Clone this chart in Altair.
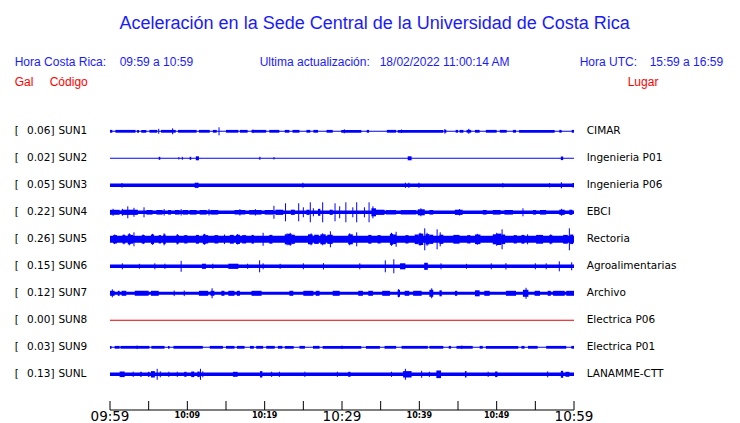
import altair as alt
import pandas as pd

# ---------------- data ----------------
codes = ["SUN1", "SUN2", "SUN3", "SUN4", "SUN5", "SUN6", "SUN7", "SUN8", "SUN9", "SUNL"]
peaks = ["0.06]", "0.02]", "0.05]", "0.22]", "0.26]", "0.15]", "0.12]", "0.00]", "0.03]", "0.13]"]
places = ["CIMAR", "Ingenieria P01", "Ingenieria P06", "EBCI", "Rectoria",
          "Agroalimentarias", "Archivo", "Electrica P06", "Electrica P01", "LANAMME-CTT"]
# half width (px) of the continuous band of each trace
base_amp = [0.5, 0.5, 1.8, 1.7, 3.5, 1.7, 1.5, 0.5, 0.5, 1.8]
trace_colors = ["#0000ff"] * 7 + ["#e00000"] + ["#0000ff"] * 2

# wider stretches: (start minute, end minute, half width px)
seg_sun1 = [(0, 0.3, 1.4), (0.7, 3.3, 1.4), (3.5, 3.75, 1.4), (4.05, 4.7, 1.4), (5.1, 6.1, 1.4),
            (6.6, 8.5, 1.4), (8.8, 11.2, 1.4), (11.5, 12.9, 1.4), (13.3, 13.8, 1.4), (15.0, 16.6, 1.4),
            (16.8, 17.8, 1.4), (18.3, 20.2, 1.4), (20.6, 21.9, 1.4), (22.6, 23.2, 1.4), (23.6, 24.5, 1.4),
            (25.4, 25.9, 1.4), (26.3, 26.9, 1.4), (28.0, 28.8, 1.4), (29.9, 32.5, 1.4), (33.2, 33.5, 1.4),
            (35.8, 37.0, 1.4), (37.2, 43.1, 1.4), (43.3, 43.5, 1.4), (44.7, 45.0, 1.4), (45.2, 45.7, 1.4),
            (46.1, 46.7, 1.4), (47.2, 47.8, 1.4), (48.6, 50.0, 1.4), (50.4, 51.3, 1.4), (52.1, 52.5, 1.4),
            (52.9, 57.5, 1.4), (58.1, 58.4, 1.4), (59.7, 60, 1.4)]
seg_sun2 = [(6.3, 6.5, 1.5), (10.3, 10.5, 1.5), (11.1, 11.5, 2.0), (19.3, 19.45, 1.5),
            (38.5, 39.0, 2.0), (58.3, 58.6, 1.8)]
seg_sun3 = [(10.95, 11.45, 2.6), (58.3, 58.45, 3.0), (59.8, 60, 2.3)]
seg_sun4 = [(0, 1.25, 2.5), (1.5, 3.6, 2.6), (4.7, 5.5, 2.3), (6.0, 6.8, 2.3), (7.5, 7.9, 2.3),
            (8.4, 9.0, 2.3), (9.4, 10.1, 2.3), (10.3, 11.2, 2.3), (11.6, 12.5, 2.3), (13.0, 14.0, 2.3),
            (16.1, 17.5, 2.3), (18.0, 19.6, 2.3), (20.0, 21.1, 2.3), (21.4, 22.4, 2.6), (23.4, 23.9, 2.6),
            (25.4, 25.8, 2.6), (26.9, 27.2, 3.5), (28.4, 28.8, 2.6), (33.8, 34.4, 4.0), (34.4, 35.5, 2.6),
            (35.7, 37.0, 2.2), (37.6, 39.6, 2.2), (39.8, 40.7, 3.0), (41.3, 41.8, 2.3), (44.6, 45.6, 2.6),
            (48.2, 48.7, 2.3), (49.5, 50.5, 2.3), (51.0, 52.1, 2.3), (54.7, 55.1, 2.3), (55.6, 56.4, 2.3),
            (58.1, 58.8, 2.6), (59.4, 59.8, 2.6)]
seg_sun5 = [(0.4, 0.9, 4.2), (1.6, 2.0, 4.2), (2.3, 2.7, 5.0), (2.7, 3.0, 4.4), (4.1, 4.5, 4.2),
            (5.3, 5.7, 4.8), (6.3, 6.6, 4.2), (6.9, 7.2, 4.8), (8.6, 8.9, 4.4), (9.6, 10.0, 4.2),
            (11.1, 11.5, 4.4), (12.0, 12.4, 4.8), (12.4, 12.7, 4.2), (13.5, 14.0, 4.2), (15.5, 16.0, 4.4),
            (16.3, 16.8, 4.6), (17.1, 17.6, 4.2), (18.3, 18.6, 4.4), (20.6, 21.0, 4.4), (22.6, 23.0, 5.0),
            (23.0, 23.5, 5.5), (23.5, 23.9, 4.6), (25.6, 26.2, 5.0), (26.4, 27.0, 4.6), (27.2, 27.9, 5.0),
            (28.1, 28.8, 4.6), (30.8, 31.4, 5.0), (33.4, 33.8, 4.4), (34.6, 35.0, 4.2), (36.2, 36.6, 5.5),
            (36.6, 37.0, 4.8), (38.2, 38.6, 4.2), (39.4, 39.9, 4.8), (39.9, 40.5, 5.7), (40.8, 41.3, 5.2),
            (41.3, 41.8, 4.6), (42.6, 43.1, 4.6), (44.4, 45.2, 4.4), (46.2, 46.6, 4.2), (47.2, 47.9, 4.8),
            (49.5, 50.0, 5.0), (50.0, 50.6, 5.7), (50.6, 51.1, 4.8), (52.2, 52.6, 4.2), (53.2, 53.6, 4.4),
            (55.1, 56.0, 4.4), (56.8, 57.2, 4.2), (58.6, 59.2, 4.4), (59.5, 59.9, 4.8)]
seg_sun6 = [(11.9, 12.4, 2.6), (15.3, 16.6, 2.6), (37.5, 38.2, 3.0), (40.7, 41.1, 3.5)]
seg_sun7 = [(0, 0.6, 2.5), (1.0, 1.25, 2.5), (1.5, 2.1, 2.5), (3.2, 5.0, 2.5), (5.3, 6.3, 2.5),
            (11.5, 12.7, 2.5), (13.0, 13.5, 2.5), (14.4, 14.8, 2.5), (15.3, 16.1, 2.5), (16.4, 16.8, 2.5),
            (18.3, 19.6, 2.5), (23.2, 23.7, 2.5), (25.0, 26.3, 2.5), (26.6, 27.1, 2.5), (28.8, 29.7, 2.5),
            (32.1, 32.7, 2.5), (33.4, 34.0, 2.5), (35.2, 36.2, 2.5), (37.2, 37.5, 3.5), (38.1, 38.7, 2.5),
            (39.2, 40.3, 2.5), (41.3, 41.8, 3.5), (42.6, 42.9, 3.0), (44.6, 44.9, 2.5), (47.2, 47.8, 3.0),
            (48.4, 49.1, 2.5), (51.2, 52.5, 2.5), (53.4, 54.1, 3.5), (54.9, 55.6, 2.5), (56.6, 57.0, 2.5),
            (57.3, 58.8, 2.5), (59.0, 60, 2.5)]
seg_sun8 = []
seg_sun9 = [(0, 0.2, 1.4), (0.6, 1.25, 1.4), (1.35, 5.1, 1.4), (5.35, 7.05, 1.4), (7.5, 7.7, 1.4),
            (8.2, 12.0, 1.4), (12.9, 14.6, 1.4), (15.0, 16.1, 1.4), (16.4, 17.4, 1.4), (18.1, 18.6, 1.4),
            (18.9, 19.8, 1.4), (20.2, 21.3, 1.4), (21.7, 22.3, 1.4), (22.6, 23.75, 1.4), (24.5, 25.2, 1.4),
            (26.25, 27.1, 1.4), (27.5, 32.5, 1.4), (33.1, 34.9, 1.4), (35.5, 37.0, 1.4), (37.7, 41.1, 1.4),
            (41.3, 43.1, 1.4), (43.8, 44.1, 1.4), (44.8, 46.9, 1.4), (47.8, 48.2, 1.4), (48.6, 52.8, 1.4),
            (53.2, 53.6, 1.4), (54.05, 55.3, 1.4), (56.4, 59.0, 1.4), (59.65, 60, 1.4)]
seg_sunl = [(1.25, 1.9, 2.8), (3.9, 4.1, 2.5), (4.9, 5.1, 2.5), (5.3, 5.8, 3.2), (9.6, 9.9, 2.5),
            (10.5, 10.9, 2.8), (11.3, 11.6, 2.8), (15.9, 16.5, 2.5), (19.4, 19.7, 3.2), (30.8, 31.1, 2.5),
            (37.9, 39.0, 3.2), (42.2, 42.8, 3.8), (45.9, 46.1, 3.2), (49.8, 50.1, 2.8), (58.3, 58.6, 3.5),
            (58.9, 59.4, 2.5)]

# single spikes: (minute, half height px)
spk_sun1 = [(6.3, 2.5), (8.1, 3.0), (14.1, 4.0), (18.5, 1.8), (30.3, 2.0), (37.7, 1.8), (43.3, 2.3), (46.4, 2.5)]
spk_sun2 = [(8.9, 1.2), (9.35, 1.5), (21.2, 1.2)]
spk_sun3 = [(1.55, 2.3), (24.95, 2.5), (38.2, 2.6), (38.65, 2.6), (39.95, 2.6), (50.8, 2.2), (56.85, 2.2)]
spk_sun4 = [(0.4, 3.5), (1.6, 3.5), (2.3, 6.0), (3.1, 4.5), (4.4, 5.0), (7.0, 3.2), (9.2, 3.2),
            (12.8, 3.2), (16.8, 3.2), (18.8, 3.2), (21.2, 6.5), (22.7, 9.0), (24.4, 9.0), (25.0, 5.0),
            (25.9, 10.0), (26.3, 4.0), (27.5, 10.0), (29.1, 9.0), (29.7, 6.0), (30.5, 10.0), (31.4, 5.0),
            (31.9, 10.0), (32.9, 5.0), (33.5, 10.0), (34.0, 6.0), (40.2, 4.0), (45.2, 3.2), (53.4, 4.0),
            (58.4, 3.5)]
spk_sun5 = [(0.6, 4.8), (1.8, 5.0), (2.5, 6.0), (3.1, 7.0), (4.3, 4.8), (5.5, 5.5), (7.0, 6.0),
            (8.7, 5.2), (12.2, 5.5), (14.8, 4.8), (16.5, 5.2), (19.8, 6.5), (22.9, 6.0), (23.3, 6.5),
            (26.0, 6.0), (27.5, 6.0), (28.5, 8.0), (31.0, 6.0), (31.9, 7.0), (36.4, 6.5), (37.0, 7.5),
            (40.1, 6.5), (40.7, 11.0), (41.0, 6.5), (42.3, 10.0), (42.7, 7.0), (47.5, 5.5), (50.0, 6.5),
            (50.7, 10.0), (54.0, 5.0), (57.0, 5.0), (59.4, 11.0)]
spk_sun6 = [(1.6, 3.0), (3.8, 2.5), (5.8, 3.0), (7.1, 2.6), (9.2, 5.5), (13.3, 2.6), (17.8, 2.6),
            (19.35, 6.0), (19.8, 3.0), (22.0, 2.5), (25.0, 3.0), (27.6, 3.2), (32.3, 3.0), (35.6, 6.0),
            (36.7, 7.0), (40.7, 3.5), (42.8, 3.0), (46.1, 2.5), (49.3, 3.0), (51.2, 3.2), (55.0, 3.0),
            (56.4, 3.0), (58.1, 5.0), (59.7, 4.0)]
spk_sun7 = [(0.3, 4.0), (8.3, 2.8), (9.6, 2.8), (13.2, 5.0), (37.3, 4.0), (41.6, 5.0), (53.8, 5.5)]
spk_sun8 = []
spk_sun9 = [(3.5, 1.8), (30.0, 1.8), (45.5, 1.8)]
spk_sunl = [(3.0, 2.6), (6.1, 5.5), (6.5, 3.0), (7.6, 2.6), (8.7, 2.6), (11.7, 5.5), (12.0, 3.0),
            (20.9, 2.6), (21.9, 2.6), (25.2, 2.6), (29.4, 2.6), (36.4, 2.6), (38.2, 5.5), (40.3, 3.5),
            (41.3, 2.6), (48.9, 2.6), (56.6, 3.0)]

segments = [seg_sun1, seg_sun2, seg_sun3, seg_sun4, seg_sun5, seg_sun6, seg_sun7, seg_sun8, seg_sun9, seg_sunl]
spikes = [spk_sun1, spk_sun2, spk_sun3, spk_sun4, spk_sun5, spk_sun6, spk_sun7, spk_sun8, spk_sun9, spk_sunl]

tick_minutes = list(range(0, 61, 5))
label_minutes = [0, 10, 20, 30, 40, 50, 60]
tick_labels = ["09:59", "10:09", "10:19", "10:29", "10:39", "10:49", "10:59"]
label_big = [True, False, False, True, False, False, True]

title_text = "Aceleración en la Sede Central de la Universidad de Costa Rica"

# ---------------- tables ----------------
ROW_PX = 27.0
rect_rows, spike_rows = [], []
for i, code in enumerate(codes):
    col = trace_colors[i]
    for (t0, t1, a) in [(0, 60, base_amp[i])] + segments[i]:
        rect_rows.append(dict(code=code, t0=t0, t1=t1, y0=i - a / ROW_PX, y1=i + a / ROW_PX, color=col))
    for (t, a) in spikes[i]:
        spike_rows.append(dict(code=code, t=t, y0=i - a / ROW_PX, y1=i + a / ROW_PX, color=col))
rect_df = pd.DataFrame(rect_rows)
spike_df = pd.DataFrame(spike_rows)
label_df = pd.DataFrame(dict(row=list(range(len(codes))), code=codes, peak=peaks, place=places))
tick_df = pd.DataFrame(dict(m=tick_minutes))
lab_df = pd.DataFrame(dict(m=label_minutes, lab=tick_labels, big=[1 if b else 0 for b in label_big]))
span_df = pd.DataFrame(dict(m0=[min(tick_minutes)], m1=[max(tick_minutes)]))
hdr_df = pd.DataFrame(dict(k=[0]))

W, H = 464, 306
TOP = 96
xs = alt.Scale(domain=[0, 60], nice=False, zero=False)
ys = alt.Scale(domain=[-1.011, 10.322], reverse=True, nice=False, zero=False)

bands = alt.Chart(rect_df).mark_rect(strokeWidth=0).encode(
    x=alt.X("t0:Q", scale=xs, axis=None), x2="t1:Q",
    y=alt.Y("y0:Q", scale=ys, axis=None), y2="y1:Q",
    color=alt.Color("color:N", scale=None))
spk = alt.Chart(spike_df).mark_rule(strokeWidth=1).encode(
    x=alt.X("t:Q", scale=xs, axis=None),
    y=alt.Y("y0:Q", scale=ys, axis=None), y2="y1:Q",
    color=alt.Color("color:N", scale=None))

lab_font = dict(font="DejaVu Sans", fontSize=10.5, color="black", baseline="middle", align="left")
left_br = alt.Chart(label_df).mark_text(**lab_font).encode(
    x=alt.value(-95.3), y=alt.Y("row:Q", scale=ys, axis=None), text=alt.value("["))
left_pk = alt.Chart(label_df).mark_text(**lab_font).encode(
    x=alt.value(-83), y=alt.Y("row:Q", scale=ys, axis=None), text="peak:N")
left_cd = alt.Chart(label_df).mark_text(**lab_font).encode(
    x=alt.value(-51.6), y=alt.Y("row:Q", scale=ys, axis=None), text="code:N")
right_pl = alt.Chart(label_df).mark_text(**lab_font).encode(
    x=alt.value(476.7), y=alt.Y("row:Q", scale=ys, axis=None), text="place:N")

axis_line = alt.Chart(span_df).mark_rule(color="black", strokeWidth=1).encode(
    x=alt.X("m0:Q", scale=xs, axis=None), x2="m1:Q", y=alt.value(H))
ticks = alt.Chart(tick_df).mark_rule(color="black", strokeWidth=1).encode(
    x=alt.X("m:Q", scale=xs, axis=None), y=alt.value(H - 9), y2=alt.value(H))
big_labels = alt.Chart(lab_df).transform_filter("datum.big == 1").mark_text(
    font="DejaVu Sans", fontSize=13.5, color="black", baseline="top", align="center").encode(
    x=alt.X("m:Q", scale=xs, axis=None), y=alt.value(H), text="lab:N")
small_labels = alt.Chart(lab_df).transform_filter("datum.big == 0").mark_text(
    font="DejaVu Sans", fontSize=8, fontWeight="bold", color="black", baseline="top", align="center").encode(
    x=alt.X("m:Q", scale=xs, axis=None), y=alt.value(H + 2), text="lab:N")

def header(txt, px, py, color, size=12, align="left"):
    return alt.Chart(hdr_df).mark_text(
        font="Liberation Sans", fontSize=size, color=color, baseline="middle", align=align
    ).encode(x=alt.value(px - 110.3), y=alt.value(py - 103), text=alt.value(txt))

BLUE = "#1a1aff"
RED = "#ff0000"
headers = [
    header(title_text, 375, 23, BLUE, size=18, align="center"),
    header("Hora Costa Rica:", 15, 61, BLUE),
    header("09:59 a 10:59", 120, 61, BLUE),
    header("Ultima actualización:", 260, 61, BLUE),
    header("18/02/2022 11:00:14 AM", 380, 61, BLUE),
    header("Hora UTC:", 580, 61, BLUE),
    header("15:59 a 16:59", 650, 61, BLUE),
    header("Gal", 15, 81, RED),
    header("Código", 50, 81, RED),
    header("Lugar", 628, 81, RED),
]

chart = alt.layer(
    bands, spk, left_br, left_pk, left_cd, right_pl, axis_line, ticks, big_labels, small_labels, *headers
).properties(
    width=W, height=H,
    autosize=alt.AutoSizeParams(type="none"),
    padding={"left": 102, "top": TOP, "right": 158, "bottom": 16},
    background="white",
).configure_view(stroke=None)

chart.save("out.html", embed_options={"renderer": "svg", "actions": False})
